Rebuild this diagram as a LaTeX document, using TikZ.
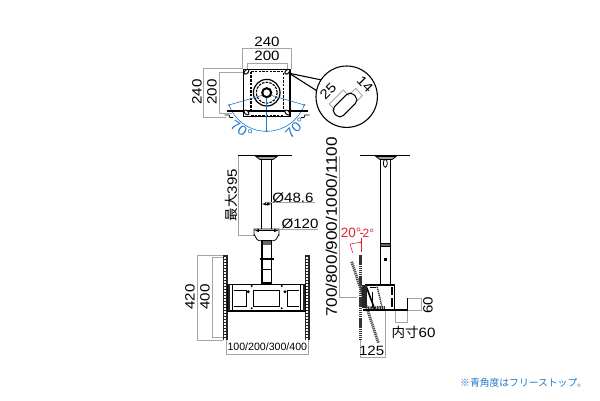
\documentclass[tikz,border=0pt]{standalone}
\usepackage{fontspec}
\setmainfont[FakeStretch=1.12]{Liberation Sans}
\newfontfamily\plainfont{Liberation Sans}
\newfontfamily\cjk{Noto Sans CJK JP}
\usetikzlibrary{calc,positioning}
\definecolor{dimgray}{RGB}{165,165,165}
\definecolor{anglablue}{RGB}{30,120,200}
\definecolor{anglared}{RGB}{230,30,50}
\begin{document}
\begin{tikzpicture}[
        x=1pt,y=-1pt,
        every node/.style={inner sep=0pt,text=black,font=\fontsize{13.5}{14}\selectfont},
        dimline/.style={draw=dimgray,line width=.9pt},
        partline/.style={draw=black,line width=.8pt},
        heavyline/.style={draw=black,line width=1.5pt},
        hiddenline/.style={draw=black,line width=1.1pt,dash pattern=on 2.5pt off 1.2pt},
        bluearc/.style={draw=anglablue,line width=.6pt},
        redline/.style={draw=anglared,line width=.6pt},
        dimtext/.style={rotate=90}
    ]
    \useasboundingbox (0,0) rectangle (600,400);

    \draw[dimline] (242,69) -- (242,48.5) -- (291,48.5) -- (291,69);
    \draw[dimline] (247,70) -- (247,63) -- (287,63) -- (287,70);
    \draw[dimline] (243,68.5) -- (203.5,68.5) -- (203.5,117) -- (226,117);
    \draw[dimline] (244,72.5) -- (219,72.5) -- (219,113) -- (232,113);
    \node (w240) at (267,42) {240};
    \node (w200) at (267,56) {200};
    \node[dimtext] (h240) at (197,92) {240};
    \node[dimtext] (h200) at (212,92) {200};

    \draw[partline,line width=1.1pt] (243.5,69.5) rectangle (290,116.5);
    \draw[hiddenline] (251,71.7) rectangle (283.3,111);
    \draw[hiddenline] (251,116) -- (283.3,116);
    \draw[hiddenline] (266.7,92.7) circle (10.5);
    \draw[partline,line width=1.2pt] (266.7,92.7) circle (13.3);

    \coordinate (pivot) at (266.7,94);
    \coordinate (bluel) at (229,105);
    \coordinate (bluer) at (304.4,105);
    \coordinate (bluem) at (266.7,131);
    \draw[bluearc] (bluel) -- (pivot) -- (bluer);
    \draw[bluearc] (pivot) -- (bluem);
    \draw[bluearc] (bluel) arc[start angle=160,end angle=20,radius=40];
    \foreach \pt in {bluel,bluer,bluem} {
        \fill[anglablue] (\pt) circle (1);
    }
    \node[rotate=-32,text=anglablue] (ang70l) at (241.5,130) {70°};
    \node[rotate=45,text=anglablue] (ang70r) at (295.5,128) {70°};

    \draw[partline,line width=2pt,fill=white] (266.7,92.7) circle (4.5);
    \draw[heavyline] (227,110.8) -- (308,110.8);
    \draw[partline] (224.5,115) -- (229,115) -- (230,117.5) -- (233,117.5);
    \draw[partline] (309.5,115) -- (305,115) -- (304,117.5) -- (301,117.5);
    \foreach \px in {246.5,287.3} {
        \draw[partline,line width=1pt,fill=white,rotate around={45:(\px,71.7)}] (\px,71.7) ellipse (3 and 1.8);
        \draw[partline,line width=1pt,fill=white,rotate around={-45:(\px,112.5)}] (\px,112.5) ellipse (3 and 1.8);
    }

    \coordinate (holetip) at (289.3,73.3);
    \draw[partline,line width=1.1pt] (holetip) -- (321.7,80);
    \draw[partline,line width=1.1pt] (holetip) -- (316.7,90.7);
    \draw[partline,line width=1.1pt,fill=white] (346.7,96.7) circle (30.7);
    \draw[dimline] (349,95.7) -- (343.3,90) -- (329.3,104) -- (335,110);
    \draw[dimline] (350,94) -- (355.7,88.3) -- (362.3,95.7) -- (356.7,101.3);
    \node[draw,line width=1pt,rounded corners=5pt,minimum width=27pt,minimum height=12.5pt,rotate=45] (slot) at (345,105) {};
    \node[rotate=45] (slot25) at (328,91.5) {25};
    \node[rotate=-45] (slot14) at (365,84.5) {14};

    \draw[dimline] (238.5,156) -- (238.5,235.7) -- (256,235.7);
    \draw[heavyline] (238,155.7) -- (291.7,155.7);
    \draw[partline,fill=dimgray] (256,156.5) -- (277,156.5) -- (273,159.5) -- (260,159.5) -- cycle;
    \draw[partline,line width=1.1pt] (261.7,159.5) -- (261.7,229) (271.7,159.5) -- (271.7,229);
    \draw[partline,fill=white] (254,229) -- (279,229) -- (279,235) to[out=90,in=0] (274,240.7) -- (259,240.7) to[out=180,in=90] (254,235) -- cycle;
    \draw[dimline] (265,202.7) -- (315,202.7);
    \draw[dimline] (279,229) -- (318,229);
    \draw[partline,line width=.5pt,<->,>=latex] (261.9,204) -- (271.5,204);
    \draw[partline,line width=.5pt,<->,>=latex] (254.5,230.5) -- (278.5,230.5);
    \node[dimtext] (reach) at (231.7,195) {{\cjk 最大}395};
    \node (dia48) at (293,197.5) {Ø48.6};
    \node (dia120) at (300,223.5) {Ø120};

    \draw[partline,line width=1.1pt] (262,241) rectangle (271.7,283);
    \fill[black!60] (262.5,241) rectangle (271.2,245);
    \draw[heavyline,line width=2.8pt] (259.5,259) -- (274,259);
    \draw[partline] (262,269) -- (271.7,269);
    \draw[dimline] (223,255) -- (197.7,255) -- (197.7,340) -- (223,340);
    \draw[dimline] (223,257.5) -- (212.7,257.5) -- (212.7,337.7) -- (223,337.7);
    \draw[dimline] (226,340) -- (226,354.3) -- (308,354.3) -- (308,340);
    \node[dimtext] (h420) at (190,297) {420};
    \node[dimtext] (h400) at (205,297) {400};
    \node[font=\plainfont\fontsize{10.6}{11}\selectfont] (railspan) at (267.3,347) {100/200/300/400};
    \foreach \rx in {223,305} {
        \fill[black!85] (\rx,255) rectangle ++(4.5,85);
        \foreach \ry in {257,260,...,338} {
            \fill[white] (\rx+1.2,\ry) rectangle ++(2.1,1.6);
        }
    }
    \draw[partline,line width=1.2pt,fill=white] (227.5,284.3) rectangle (305,311);
    \fill[black!85] (227.5,284.3) rectangle (230,311);
    \fill[black!85] (302.5,284.3) rectangle (305,311);
    \draw[partline] (232.5,285) -- (232.5,310.5) (300,285) -- (300,310.5);
    \draw[partline,line width=1pt] (234,290) -- (246,290) -- (246,306.7) -- (234,306.7);
    \draw[partline,line width=1pt] (253,290) rectangle (279.3,306);
    \draw[partline,line width=1pt] (299,290) -- (287.7,290) -- (287.7,306.7) -- (299,306.7);
    \foreach \dx/\dy in {248.3/291.7,285/291.7} {
        \fill (\dx,\dy) circle (1.6);
    }
    \foreach \dx/\dy in {251.7/286,281.7/286,251.7/308.3,281.7/308.3} {
        \fill (\dx,\dy) circle (1.1);
    }

    \draw[dimline] (339,156) -- (339,297.3) -- (357,297.3);
    \draw[heavyline] (360,155.7) -- (410,155.7);
    \draw[partline,fill=dimgray] (376,156.5) -- (396,156.5) -- (392,159.5) -- (380,159.5) -- cycle;
    \draw[partline] (385.3,163.3) ellipse (2 and 4);
    \draw[partline,line width=1.1pt] (380.3,159) -- (380.3,243) (390.7,159) -- (390.7,243);
    \draw[partline,fill=black!60] (380.3,243) rectangle (390.7,246);
    \draw[partline,line width=1.1pt] (380.3,246) -- (380.3,285) (390.7,246) -- (390.7,285);
    \fill (383.5,257.5) rectangle ++(3,3);
    \node[rotate=90,font=\fontsize{15.3}{16}\selectfont] (drop) at (331.5,227) {700/800/900/1000/1100};

    \node[text=anglared,font=\plainfont\fontsize{13.5}{14}\selectfont] (tilt) at (357.5,232.5) {20°\kern-1.5pt-\kern-1.5pt{\fontsize{12}{12}\selectfont 2°}};
    \coordinate (redl) at (350,244);
    \coordinate (redr) at (361,242.3);
    \draw[redline] (redl) -- (redr);
    \draw[redline] (redl) -- (352.7,252.7);
    \draw[redline] (361,238) -- (361,252);
    \fill[anglared] (redr) circle (1);

    \draw[dimline] (360,339) -- (360,357.3) -- (385,357.3) -- (385,311);
    \draw[dimline] (407,298.3) -- (421.7,298.3) -- (421.7,310) -- (407,310);
    \draw[dimline] (395,310) -- (395,322.7) -- (407.3,322.7) -- (407.3,310);
    \node[dimtext] (inner60v) at (428,305) {60};
    \node (inner60h) at (413.5,332.5) {{\cjk 内寸}60};
    \node (depth125) at (371.7,351) {125};

    \draw[black!80,line width=3.8pt,dash pattern=on 1.5pt off .6pt] (360.5,255) -- (360.5,339.5);
    \draw[black!70,line width=2.8pt,dash pattern=on 1.2pt off .8pt] (351.7,261.7) -- (378.3,342.7);
    \draw[partline,line width=1.3pt] (365,285) -- (394.3,285) -- (394.3,310) -- (407.7,310) -- (407.7,298.3);
    \draw[partline,line width=1.3pt] (363,310) -- (394.3,310);
    \fill (390.8,286.7) rectangle ++(1.8,8.3);
    \fill (390.8,298.3) rectangle ++(1.8,8.4);
    \draw[partline,line width=1.6pt] (365.7,285) -- (375,310);
    \draw[black!80,line width=1.5pt,dash pattern=on 1.2pt off .8pt] (376.7,285) -- (382.3,308);
    \draw[partline] (370,287) -- (376,287) (372,308) -- (372,292);
    \draw[black!80,line width=3pt,dash pattern=on 1.5pt off .8pt] (368,308) -- (385,307.5);
    \fill[black!85] (362,285) rectangle (366.5,308);

    \node[text=anglablue,font=\cjk\fontsize{9.8}{10}\selectfont,anchor=west] (footnote) at (460,383) {※青角度はフリーストップ。};
\end{tikzpicture}
\end{document}
